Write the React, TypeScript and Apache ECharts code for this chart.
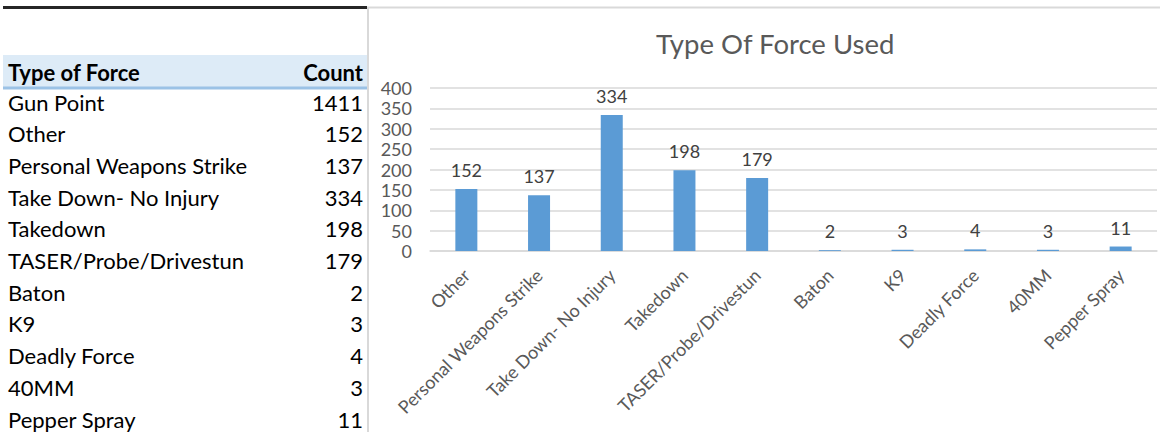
import React, { useEffect, useRef } from "react";
import * as echarts from "echarts";

const tableHeader = ["Type of Force", "Count"];
const tableLabels = [
  "Gun Point",
  "Other",
  "Personal Weapons Strike",
  "Take Down- No Injury",
  "Takedown",
  "TASER/Probe/Drivestun",
  "Baton",
  "K9",
  "Deadly Force",
  "40MM",
  "Pepper Spray",
];
const tableCounts = [1411, 152, 137, 334, 198, 179, 2, 3, 4, 3, 11];

const chartTitle = "Type Of Force Used";
const chartCategories = [
  "Other",
  "Personal Weapons Strike",
  "Take Down- No Injury",
  "Takedown",
  "TASER/Probe/Drivestun",
  "Baton",
  "K9",
  "Deadly Force",
  "40MM",
  "Pepper Spray",
];
const chartValues = [152, 137, 334, 198, 179, 2, 3, 4, 3, 11];
const yMin = 0;
const yMax = 400;
const yStep = 50;

const FONT = "Lato, Carlito, Calibri, 'Open Sans', sans-serif";

export default function App() {
  const ref = useRef<HTMLDivElement>(null);

  useEffect(() => {
    if (!ref.current) return;
    const chart = echarts.init(ref.current, null, { renderer: "svg" });

    const rowH = 31.7;
    const firstMid = 102;
    const tableTexts: any[] = [];
    tableLabels.forEach((lab, i) => {
      const y = firstMid + i * rowH;
      tableTexts.push({
        type: "text",
        x: 8,
        y,
        style: { text: lab, fill: "#000", fontSize: 22, fontFamily: FONT, align: "left", verticalAlign: "middle" },
      });
      tableTexts.push({
        type: "text",
        x: 363,
        y,
        style: { text: String(tableCounts[i]), fill: "#000", fontSize: 22, fontFamily: FONT, align: "right", verticalAlign: "middle" },
      });
    });

    chart.setOption({
      animation: false,
      backgroundColor: "#fff",
      title: {
        text: chartTitle,
        left: 651,
        top: 24,
        textStyle: { fontFamily: FONT, fontSize: 27.5, fontWeight: "normal", color: "#595959" },
      },
      grid: { left: 430, right: 3, top: 88, bottom: 181, containLabel: false },
      xAxis: {
        type: "category",
        data: chartCategories,
        axisLine: { show: true, lineStyle: { color: "#d9d9d9", width: 1.5 } },
        axisTick: { show: false },
        axisLabel: {
          interval: 0,
          rotate: 45,
          margin: 21,
          color: "#595959",
          fontFamily: FONT,
          fontSize: 18,
        },
      },
      yAxis: {
        type: "value",
        min: yMin,
        max: yMax,
        interval: yStep,
        axisLine: { show: false },
        axisTick: { show: false },
        splitLine: { lineStyle: { color: "#d9d9d9", width: 1.5 } },
        axisLabel: { margin: 18, color: "#595959", fontFamily: FONT, fontSize: 18 },
      },
      series: [
        {
          type: "bar",
          data: chartValues,
          barWidth: 22,
          itemStyle: { color: "#5B9BD5" },
          label: {
            show: true,
            position: "top",
            distance: 10,
            color: "#404040",
            fontFamily: FONT,
            fontSize: 18,
          },
        },
      ],
      graphic: [
        { type: "rect", shape: { x: 3, y: 55, width: 364, height: 32 }, style: { fill: "#DDEBF7" }, silent: true },
        { type: "line", shape: { x1: 3, y1: 88, x2: 367, y2: 88 }, style: { stroke: "#9BC2E6", lineWidth: 3 }, silent: true },
        { type: "line", shape: { x1: 3, y1: 7.5, x2: 367, y2: 7.5 }, style: { stroke: "#262626", lineWidth: 3 }, silent: true },
        { type: "line", shape: { x1: 367, y1: 7.5, x2: 1160, y2: 7.5 }, style: { stroke: "#d9d9d9", lineWidth: 2 }, silent: true },
        { type: "line", shape: { x1: 368, y1: 7, x2: 368, y2: 432 }, style: { stroke: "#d9d9d9", lineWidth: 2 }, silent: true },
        {
          type: "text",
          x: 8,
          y: 72,
          style: { text: tableHeader[0], fill: "#000", fontSize: 22, fontWeight: "bold", fontFamily: FONT, align: "left", verticalAlign: "middle" },
        },
        {
          type: "text",
          x: 363,
          y: 72,
          style: { text: tableHeader[1], fill: "#000", fontSize: 22, fontWeight: "bold", fontFamily: FONT, align: "right", verticalAlign: "middle" },
        },
        ...tableTexts,
      ],
    });

    return () => chart.dispose();
  }, []);

  return (
    <div
      ref={ref}
      style={{ position: "fixed", left: 0, top: 0, width: 1160, height: 432, background: "#fff" }}
    />
  );
}
